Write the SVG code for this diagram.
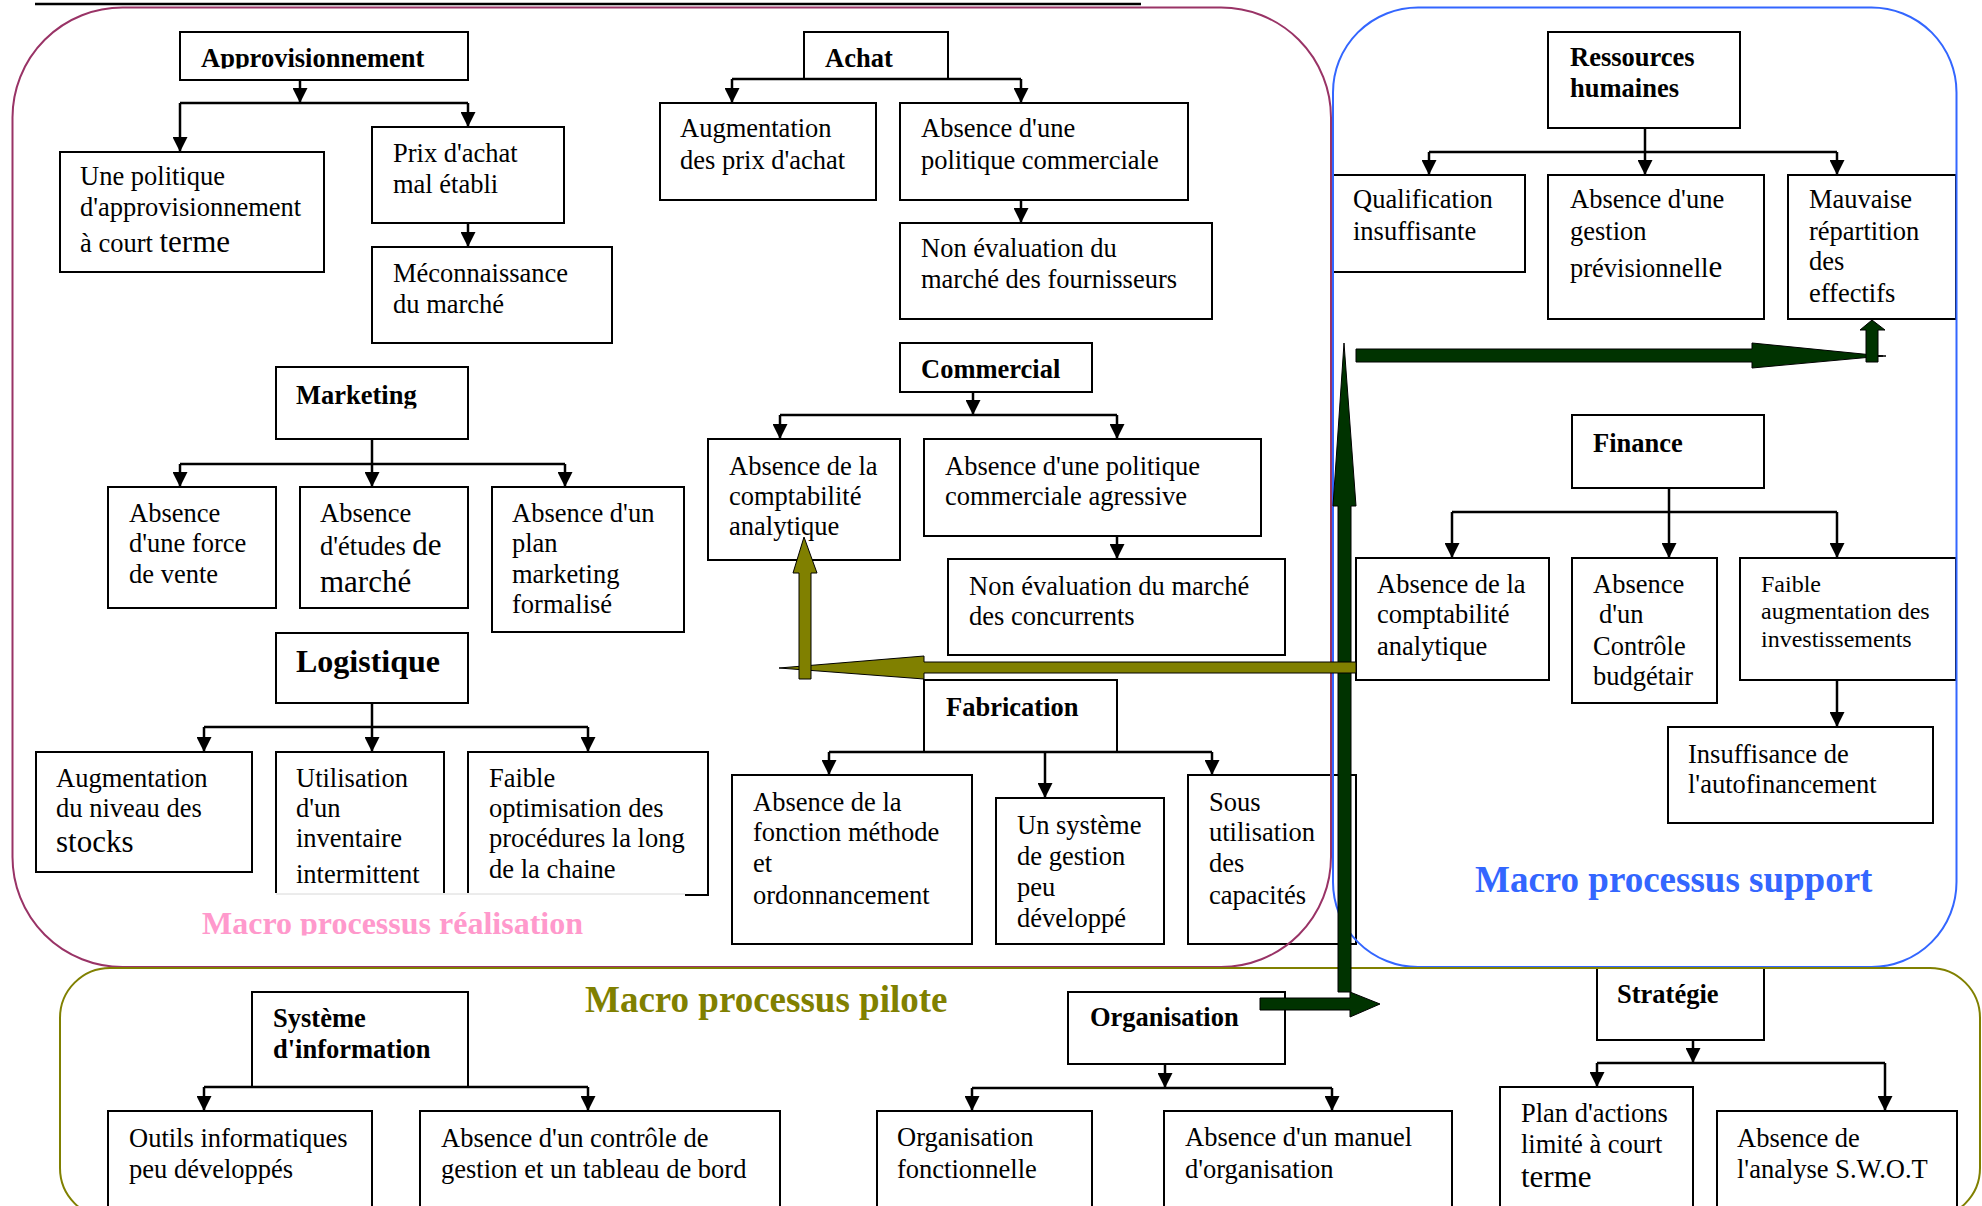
<svg xmlns="http://www.w3.org/2000/svg" width="1982" height="1206" viewBox="0 0 1982 1206">
  <style>
    .box { fill: #fff; stroke: #000; stroke-width: 2; }
    .t { font-family: "Liberation Serif", "Times New Roman", serif; font-size: 26.5px; fill: #000; }
    .b { font-weight: bold; }
    .big { font-size: 31px; }
    .small { font-size: 24px; }
    .conn path { fill: none; stroke: #000; stroke-width: 2.5; }
    .frame { fill: none; stroke-width: 2; }
    .lbl { font-family: "Liberation Serif", "Times New Roman", serif; font-weight: bold; }
    .green { fill: #003300; stroke: #000; stroke-width: 1; }
    .olive { fill: #808000; stroke: #000; stroke-width: 1; }
  </style>
  <defs>
    <marker id="ah" viewBox="0 0 10 10" refX="10" refY="5" markerWidth="15" markerHeight="15" markerUnits="userSpaceOnUse" orient="auto">
      <path d="M0,0 L10,5 L0,10 Z" fill="#000"/>
    </marker>
    <clipPath id="clipApp"><rect x="0" y="0" width="1982" height="68.5"/></clipPath>
    <clipPath id="clipMkt"><rect x="0" y="0" width="1982" height="408.5"/></clipPath>
    <clipPath id="clipReal"><rect x="0" y="0" width="1982" height="935.5"/></clipPath>
  </defs>

  <rect width="1982" height="1206" fill="#fff"/>
  <line x1="35" y1="4" x2="1141" y2="4" stroke="#000" stroke-width="2.5"/>

  <!-- Approvisionnement -->
  <g id="approvisionnement">
    <rect class="box" x="180" y="32" width="288" height="48"/>
    <text class="t b" x="201" y="67" clip-path="url(#clipApp)">Approvisionnement</text>
  </g>
  <g id="politique-appro">
    <rect class="box" x="60" y="152" width="264" height="120"/>
    <text class="t" x="80" y="185">Une politique</text>
    <text class="t" x="80" y="216">d'approvisionnement</text>
    <text class="t" x="80" y="252">à court <tspan class="big">terme</tspan></text>
  </g>
  <g id="prix-achat">
    <rect class="box" x="372" y="127" width="192" height="96"/>
    <text class="t" x="393" y="162">Prix d'achat</text>
    <text class="t" x="393" y="193">mal établi</text>
  </g>
  <g id="meconnaissance">
    <rect class="box" x="372" y="247" width="240" height="96"/>
    <text class="t" x="393" y="282">Méconnaissance</text>
    <text class="t" x="393" y="313">du marché</text>
  </g>

  <!-- Achat -->
  <g id="achat">
    <rect class="box" x="804" y="32" width="144" height="47"/>
    <text class="t b" x="825" y="67">Achat</text>
  </g>
  <g id="augmentation-prix">
    <rect class="box" x="660" y="103" width="216" height="97"/>
    <text class="t" x="680" y="137">Augmentation</text>
    <text class="t" x="680" y="169">des prix d'achat</text>
  </g>
  <g id="absence-politique-commerciale">
    <rect class="box" x="900" y="103" width="288" height="97"/>
    <text class="t" x="921" y="137">Absence d'une</text>
    <text class="t" x="921" y="169">politique commerciale</text>
  </g>
  <g id="non-evaluation-fournisseurs">
    <rect class="box" x="900" y="223" width="312" height="96"/>
    <text class="t" x="921" y="257">Non évaluation du</text>
    <text class="t" x="921" y="288">marché des fournisseurs</text>
  </g>

  <!-- Commercial -->
  <g id="commercial">
    <rect class="box" x="900" y="343" width="192" height="49"/>
    <text class="t b" x="921" y="378">Commercial</text>
  </g>
  <g id="compta-commercial">
    <rect class="box" x="708" y="439" width="192" height="121"/>
    <text class="t" x="729" y="475">Absence de la</text>
    <text class="t" x="729" y="505">comptabilité</text>
    <text class="t" x="729" y="535">analytique</text>
  </g>
  <g id="politique-agressive">
    <rect class="box" x="924" y="439" width="337" height="97"/>
    <text class="t" x="945" y="475">Absence d'une politique</text>
    <text class="t" x="945" y="505">commerciale agressive</text>
  </g>
  <g id="non-evaluation-concurrents">
    <rect class="box" x="948" y="559" width="337" height="96"/>
    <text class="t" x="969" y="595">Non évaluation du marché</text>
    <text class="t" x="969" y="625">des concurrents</text>
  </g>

  <!-- Fabrication -->
  <g id="fabrication">
    <rect class="box" x="924" y="680" width="193" height="72"/>
    <text class="t b" x="946" y="716">Fabrication</text>
  </g>
  <g id="fonction-methode">
    <rect class="box" x="732" y="775" width="240" height="169"/>
    <text class="t" x="753" y="811">Absence de la</text>
    <text class="t" x="753" y="841">fonction méthode</text>
    <text class="t" x="753" y="872">et</text>
    <text class="t" x="753" y="904">ordonnancement</text>
  </g>
  <g id="systeme-gestion">
    <rect class="box" x="996" y="798" width="168" height="146"/>
    <text class="t" x="1017" y="834">Un système</text>
    <text class="t" x="1017" y="865">de gestion</text>
    <text class="t" x="1017" y="896">peu</text>
    <text class="t" x="1017" y="927">développé</text>
  </g>
  <g id="sous-utilisation">
    <rect class="box" x="1188" y="775" width="168" height="169"/>
    <text class="t" x="1209" y="811">Sous</text>
    <text class="t" x="1209" y="841">utilisation</text>
    <text class="t" x="1209" y="872">des</text>
    <text class="t" x="1209" y="904">capacités</text>
  </g>

  <!-- Marketing -->
  <g id="marketing">
    <rect class="box" x="276" y="367" width="192" height="72"/>
    <text class="t b" x="296" y="404" clip-path="url(#clipMkt)">Marketing</text>
  </g>
  <g id="force-vente">
    <rect class="box" x="108" y="487" width="168" height="121"/>
    <text class="t" x="129" y="522">Absence</text>
    <text class="t" x="129" y="552">d'une force</text>
    <text class="t" x="129" y="583">de vente</text>
  </g>
  <g id="etudes-marche">
    <rect class="box" x="300" y="487" width="168" height="121"/>
    <text class="t" x="320" y="522">Absence</text>
    <text class="t" x="320" y="555">d'études <tspan class="big">de</tspan></text>
    <text class="t big" x="320" y="592">marché</text>
  </g>
  <g id="plan-marketing">
    <rect class="box" x="492" y="487" width="192" height="145"/>
    <text class="t" x="512" y="522">Absence d'un</text>
    <text class="t" x="512" y="552">plan</text>
    <text class="t" x="512" y="583">marketing</text>
    <text class="t" x="512" y="613">formalisé</text>
  </g>

  <!-- Logistique -->
  <g id="logistique">
    <rect class="box" x="276" y="633" width="192" height="70"/>
    <text class="t b" x="296" y="672" style="font-size:32px">Logistique</text>
  </g>
  <g id="niveau-stocks">
    <rect class="box" x="36" y="752" width="216" height="120"/>
    <text class="t" x="56" y="787">Augmentation</text>
    <text class="t" x="56" y="817">du niveau des</text>
    <text class="t big" x="56" y="852">stocks</text>
  </g>
  <g id="inventaire">
    <rect class="box" x="276" y="752" width="168" height="142"/>
    <text class="t" x="296" y="787">Utilisation</text>
    <text class="t" x="296" y="817">d'un</text>
    <text class="t" x="296" y="847">inventaire</text>
    <text class="t" x="296" y="883">intermittent</text>
  </g>
  <g id="optimisation">
    <rect class="box" x="468" y="752" width="240" height="143"/>
    <text class="t" x="489" y="787">Faible</text>
    <text class="t" x="489" y="817">optimisation des</text>
    <text class="t" x="489" y="847">procédures la long</text>
    <text class="t" x="489" y="878">de la chaine</text>
  </g>

  <!-- Ressources humaines -->
  <g id="ressources-humaines">
    <rect class="box" x="1548" y="32" width="192" height="96"/>
    <text class="t b" x="1570" y="66">Ressources</text>
    <text class="t b" x="1570" y="97">humaines</text>
  </g>
  <g id="qualification">
    <rect class="box" x="1333" y="175" width="192" height="97"/>
    <text class="t" x="1353" y="208">Qualification</text>
    <text class="t" x="1353" y="240">insuffisante</text>
  </g>
  <g id="gestion-previsionnelle">
    <rect class="box" x="1548" y="175" width="216" height="144"/>
    <text class="t" x="1570" y="208">Absence d'une</text>
    <text class="t" x="1570" y="240">gestion</text>
    <text class="t" x="1570" y="277">prévisionnell<tspan class="big">e</tspan></text>
  </g>
  <g id="repartition-effectifs">
    <rect class="box" x="1788" y="175" width="168" height="144"/>
    <text class="t" x="1809" y="208">Mauvaise</text>
    <text class="t" x="1809" y="240">répartition</text>
    <text class="t" x="1809" y="270">des</text>
    <text class="t" x="1809" y="302">effectifs</text>
  </g>

  <!-- Finance -->
  <g id="finance">
    <rect class="box" x="1572" y="415" width="192" height="73"/>
    <text class="t b" x="1593" y="452">Finance</text>
  </g>
  <g id="compta-finance">
    <rect class="box" x="1356" y="558" width="193" height="122"/>
    <text class="t" x="1377" y="593">Absence de la</text>
    <text class="t" x="1377" y="623">comptabilité</text>
    <text class="t" x="1377" y="655">analytique</text>
  </g>
  <g id="controle-budgetaire">
    <rect class="box" x="1572" y="558" width="145" height="145"/>
    <text class="t" x="1593" y="593">Absence</text>
    <text class="t" x="1599" y="623">d'un</text>
    <text class="t" x="1593" y="655">Contrôle</text>
    <text class="t" x="1593" y="685">budgétair</text>
  </g>
  <g id="investissements">
    <rect class="box" x="1740" y="558" width="216" height="122"/>
    <text class="t small" x="1761" y="592">Faible</text>
    <text class="t small" x="1761" y="619">augmentation des</text>
    <text class="t small" x="1761" y="647">investissements</text>
  </g>
  <g id="autofinancement">
    <rect class="box" x="1668" y="727" width="265" height="96"/>
    <text class="t" x="1688" y="763">Insuffisance de</text>
    <text class="t" x="1688" y="793">l'autofinancement</text>
  </g>

  <!-- Système d'information -->
  <g id="systeme-information">
    <rect class="box" x="252" y="992" width="216" height="95"/>
    <text class="t b" x="273" y="1027">Système</text>
    <text class="t b" x="273" y="1058">d'information</text>
  </g>
  <g id="outils-informatiques">
    <rect class="box" x="108" y="1111" width="264" height="110"/>
    <text class="t" x="129" y="1147">Outils informatiques</text>
    <text class="t" x="129" y="1178">peu développés</text>
  </g>
  <g id="controle-gestion">
    <rect class="box" x="420" y="1111" width="360" height="110"/>
    <text class="t" x="441" y="1147">Absence d'un contrôle de</text>
    <text class="t" x="441" y="1178">gestion et un tableau de bord</text>
  </g>

  <!-- Organisation -->
  <g id="organisation">
    <rect class="box" x="1068" y="992" width="217" height="72"/>
    <text class="t b" x="1090" y="1026">Organisation</text>
  </g>
  <g id="organisation-fonctionnelle">
    <rect class="box" x="877" y="1111" width="215" height="110"/>
    <text class="t" x="897" y="1146">Organisation</text>
    <text class="t" x="897" y="1178">fonctionnelle</text>
  </g>
  <g id="manuel-organisation">
    <rect class="box" x="1164" y="1111" width="288" height="110"/>
    <text class="t" x="1185" y="1146">Absence d'un manuel</text>
    <text class="t" x="1185" y="1178">d'organisation</text>
  </g>

  <!-- Stratégie -->
  <g id="strategie">
    <rect class="box" x="1597" y="968" width="167" height="72"/>
    <text class="t b" x="1617" y="1003">Stratégie</text>
  </g>
  <g id="plan-actions">
    <rect class="box" x="1500" y="1087" width="193" height="130"/>
    <text class="t" x="1521" y="1122">Plan d'actions</text>
    <text class="t" x="1521" y="1153">limité à court</text>
    <text class="t big" x="1521" y="1187">terme</text>
  </g>
  <g id="analyse-swot">
    <rect class="box" x="1717" y="1111" width="240" height="110"/>
    <text class="t" x="1737" y="1147">Absence de</text>
    <text class="t" x="1737" y="1178">l'analyse S.W.O.T</text>
  </g>

  <!-- Connectors -->
  <g id="connectors" class="conn">
    <path d="M300,80 V103" marker-end="url(#ah)"/>
    <path d="M180,103 H468"/>
    <path d="M180,103 V152" marker-end="url(#ah)"/>
    <path d="M468,103 V127" marker-end="url(#ah)"/>
    <path d="M468,223 V247" marker-end="url(#ah)"/>

    <path d="M732,79 H1021"/>
    <path d="M732,79 V103" marker-end="url(#ah)"/>
    <path d="M1021,79 V103" marker-end="url(#ah)"/>
    <path d="M1021,200 V223" marker-end="url(#ah)"/>

    <path d="M973,392 V415" marker-end="url(#ah)"/>
    <path d="M780,415 H1117"/>
    <path d="M780,415 V439" marker-end="url(#ah)"/>
    <path d="M1117,415 V439" marker-end="url(#ah)"/>
    <path d="M1117,536 V559" marker-end="url(#ah)"/>

    <path d="M829,752 H1212"/>
    <path d="M829,752 V775" marker-end="url(#ah)"/>
    <path d="M1045,752 V798" marker-end="url(#ah)"/>
    <path d="M1212,752 V775" marker-end="url(#ah)"/>

    <path d="M372,439 V487" marker-end="url(#ah)"/>
    <path d="M180,464 H565"/>
    <path d="M180,464 V487" marker-end="url(#ah)"/>
    <path d="M565,464 V487" marker-end="url(#ah)"/>

    <path d="M372,703 V752" marker-end="url(#ah)"/>
    <path d="M204,727 H588"/>
    <path d="M204,727 V752" marker-end="url(#ah)"/>
    <path d="M588,727 V752" marker-end="url(#ah)"/>

    <path d="M1645,128 V175" marker-end="url(#ah)"/>
    <path d="M1429,152 H1837"/>
    <path d="M1429,152 V175" marker-end="url(#ah)"/>
    <path d="M1837,152 V175" marker-end="url(#ah)"/>

    <path d="M1669,488 V558" marker-end="url(#ah)"/>
    <path d="M1452,512 H1837"/>
    <path d="M1452,512 V558" marker-end="url(#ah)"/>
    <path d="M1837,512 V558" marker-end="url(#ah)"/>
    <path d="M1837,680 V727" marker-end="url(#ah)"/>

    <path d="M204,1087 H588"/>
    <path d="M204,1087 V1111" marker-end="url(#ah)"/>
    <path d="M588,1087 V1111" marker-end="url(#ah)"/>

    <path d="M1165,1064 V1088" marker-end="url(#ah)"/>
    <path d="M972,1088 H1332"/>
    <path d="M972,1088 V1111" marker-end="url(#ah)"/>
    <path d="M1332,1088 V1111" marker-end="url(#ah)"/>

    <path d="M1693,1040 V1063" marker-end="url(#ah)"/>
    <path d="M1597,1063 H1885"/>
    <path d="M1597,1063 V1087" marker-end="url(#ah)"/>
    <path d="M1885,1063 V1111" marker-end="url(#ah)"/>
  </g>

  <!-- Label of the realisation area, on a white patch -->
  <rect x="190" y="893" width="495" height="44" fill="#fff"/>
  <line x1="276" y1="894" x2="685" y2="894" stroke="#d8d8d8" stroke-width="1"/>
  <text class="lbl" x="202" y="934" font-size="32" fill="#FF99CC" clip-path="url(#clipReal)">Macro processus réalisation</text>

  <!-- Process areas -->
  <g id="areas">
    <rect class="frame" x="12.5" y="7.5" width="1318.5" height="959.5" rx="110" ry="110" stroke="#993366"/>
    <rect class="frame" x="1333" y="7.5" width="623.5" height="959.5" rx="85" ry="85" stroke="#3366FF"/>
    <rect class="frame" x="60" y="968" width="1920" height="250" rx="50" ry="50" stroke="#808000"/>
  </g>
  <text class="lbl" x="1475" y="892" font-size="37" fill="#3366FF">Macro processus support</text>
  <text class="lbl" x="585" y="1012" font-size="37" fill="#808000">Macro processus pilote</text>

  <!-- Block arrows -->
  <g id="block-arrows">
    <path class="green" d="M1338,992 L1338,506 L1333,506 L1344,343 L1356,506 L1351,506 L1351,992 Z"/>
    <path class="green" d="M1356,349 L1752,349 L1752,343 L1883,356 L1752,368 L1752,362 L1356,362 Z"/>
    <path class="green" d="M1866,362 L1866,330 L1860,330 L1872,320 L1885,330 L1878,330 L1878,362 Z"/>
    <line x1="1878" y1="356" x2="1886" y2="356" stroke="#000" stroke-width="1.5"/>
    <path class="green" d="M1260,998 L1350,998 L1350,992 L1380,1004 L1350,1017 L1350,1010 L1260,1010 Z"/>
    <path class="olive" d="M1356,662 L924,662 L924,656 L779,668 L924,679 L924,673 L1356,673 Z"/>
    <path class="olive" d="M799,679 L799,573 L793,573 L804,537 L817,573 L811,573 L811,679 Z"/>
  </g>
</svg>
